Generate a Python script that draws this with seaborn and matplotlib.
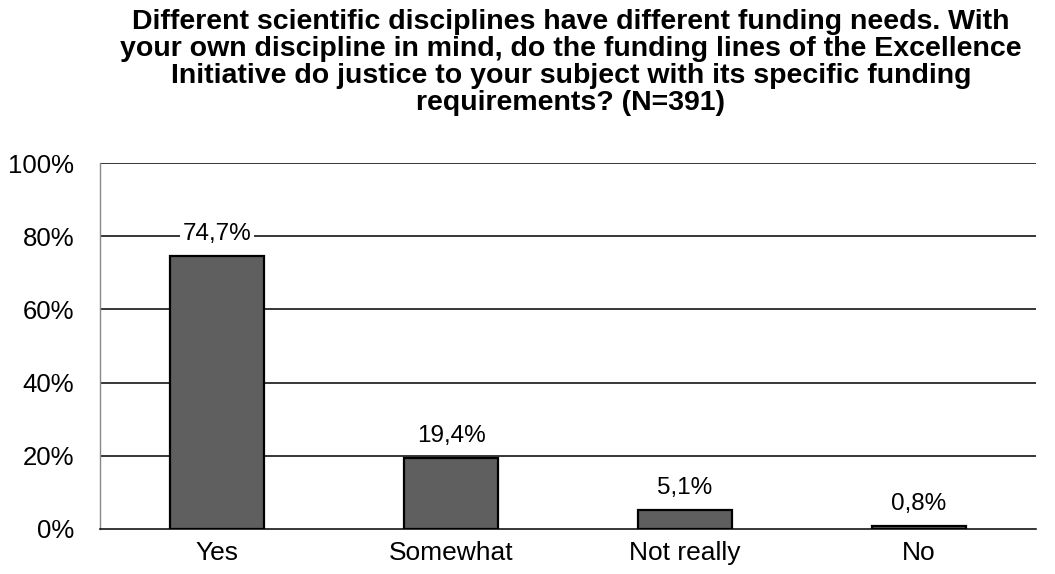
import matplotlib
matplotlib.use("Agg")
import matplotlib.pyplot as plt
import seaborn as sns
import pandas as pd

categories = ["Yes", "Somewhat", "Not really", "No"]
shares = [74.7, 19.4, 5.1, 0.8]
value_labels = ["74,7%", "19,4%", "5,1%", "0,8%"]
y_ticks = [0, 20, 40, 60, 80, 100]
y_tick_labels = ["0%", "20%", "40%", "60%", "80%", "100%"]
title = ("Different scientific disciplines have different funding needs. With\n"
         "your own discipline in mind, do the funding lines of the Excellence\n"
         "Initiative do justice to your subject with its specific funding\n"
         "requirements? (N=391)")


def main():
    sns.set_style("white")
    plt.rcParams["font.family"] = ["Liberation Sans", "DejaVu Sans"]
    # seaborn greys out text, the reference is plain black
    for key in ["text.color", "xtick.color", "ytick.color", "axes.labelcolor"]:
        plt.rcParams[key] = "black"

    df = pd.DataFrame({"category": categories, "share": shares})

    fig = plt.figure(figsize=(10.55, 5.74), dpi=100)
    ax = fig.add_axes([0.0948, 0.0784, 0.982 - 0.0948, 0.716 - 0.0784])

    sns.barplot(data=df, x="category", y="share", order=categories,
                color="#5f5f5f", saturation=1, width=0.4,
                edgecolor="black", linewidth=1.6, ax=ax, zorder=3)

    ax.set_ylim(0, 100)
    ax.set_xlim(-0.5, len(categories) - 0.5)
    ax.set_yticks(y_ticks)
    ax.set_yticklabels(y_tick_labels, fontsize=18.5)
    ax.tick_params(axis="x", labelsize=19, length=0, pad=9)
    ax.tick_params(axis="y", length=0, pad=18.5)
    ax.set_xlabel("")
    ax.set_ylabel("")

    # horizontal gridlines
    for t in y_ticks[1:]:
        ax.axhline(t, color="black", lw=1.1, zorder=1)

    for s in ["top", "right"]:
        ax.spines[s].set_visible(False)
    ax.spines["left"].set_color("#888888")
    ax.spines["left"].set_linewidth(1.0)
    ax.spines["bottom"].set_color("black")
    ax.spines["bottom"].set_linewidth(1.1)

    for i, (v, lab) in enumerate(zip(shares, value_labels)):
        ax.text(i, v + 3.0, lab, ha="center", va="bottom", fontsize=17.5,
                zorder=4,
                bbox=dict(facecolor="white", edgecolor="none", pad=2))

    fig.suptitle(title, fontsize=20.5, fontweight="bold", y=0.985,
                 linespacing=1.05, x=0.541)

    fig.savefig("out.png", dpi=100)
    plt.close(fig)


if __name__ == "__main__":
    main()
